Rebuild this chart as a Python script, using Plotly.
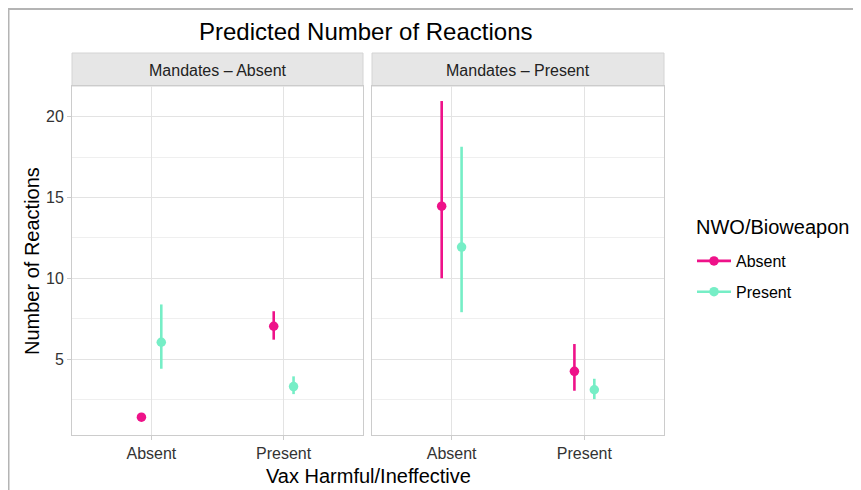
import plotly.graph_objects as go

# ---- data ----
vax_levels = ["Absent", "Present"]
nwo_levels = ["Absent", "Present"]
panels = ["Mandates – Absent", "Mandates – Present"]

# panel 1: Mandates – Absent
m_abs_nwo_abs_est = [1.40, 7.03]
m_abs_nwo_abs_lo = [1.30, 6.20]
m_abs_nwo_abs_hi = [1.50, 7.96]
m_abs_nwo_pre_est = [6.04, 3.30]
m_abs_nwo_pre_lo = [4.40, 2.83]
m_abs_nwo_pre_hi = [8.38, 3.93]

# panel 2: Mandates – Present
m_pre_nwo_abs_est = [14.46, 4.24]
m_pre_nwo_abs_lo = [10.00, 3.04]
m_pre_nwo_abs_hi = [20.97, 5.93]
m_pre_nwo_pre_est = [11.93, 3.10]
m_pre_nwo_pre_lo = [7.90, 2.52]
m_pre_nwo_pre_hi = [18.14, 3.78]

colors = {"Absent": "#EE1289", "Present": "#76EEC6"}
dodge = {"Absent": -0.075, "Present": 0.075}

# figure is placed at page offset (8, 8) by the default body margin
W, H = 853, 482
OFF = 8
def px_x(v):
    return (v - OFF) / W
def px_y(v):
    return 1 - (v - OFF) / H

fig = go.Figure()

series = [
    (0, "Absent", m_abs_nwo_abs_est, m_abs_nwo_abs_lo, m_abs_nwo_abs_hi),
    (0, "Present", m_abs_nwo_pre_est, m_abs_nwo_pre_lo, m_abs_nwo_pre_hi),
    (1, "Absent", m_pre_nwo_abs_est, m_pre_nwo_abs_lo, m_pre_nwo_abs_hi),
    (1, "Present", m_pre_nwo_pre_est, m_pre_nwo_pre_lo, m_pre_nwo_pre_hi),
]

for p, nwo, est, lo, hi in series:
    xs = [i + 1 + dodge[nwo] for i in range(len(vax_levels))]
    fig.add_trace(go.Scatter(
        x=xs, y=est,
        mode="markers",
        name=nwo,
        legendgroup=nwo,
        showlegend=False,
        marker=dict(color=colors[nwo], size=9.5),
        error_y=dict(type="data", symmetric=False,
                     array=[h - e for h, e in zip(hi, est)],
                     arrayminus=[e - l for e, l in zip(est, lo)],
                     color=colors[nwo], thickness=2.6, width=0),
        xaxis="x" if p == 0 else "x2",
        yaxis="y" if p == 0 else "y2",
        hovertemplate="%{y:.2f}<extra></extra>",
    ))

# legend entries (pointrange glyph: line + dot)
for nwo in nwo_levels:
    fig.add_trace(go.Scatter(
        x=[None], y=[None], mode="lines+markers", name=nwo, legendgroup=nwo,
        line=dict(color=colors[nwo], width=2.6),
        marker=dict(color=colors[nwo], size=9.5),
        showlegend=True, hoverinfo="skip",
    ))

ydom = [px_y(435), px_y(86)]
grid_col = "#e3e3e3"
border_col = "#cccccc"
axis_common_y = dict(
    range=[0.3, 21.9], tickvals=[5, 10, 15, 20],
    showgrid=True, gridcolor=grid_col, gridwidth=1.3,
    minor=dict(tickvals=[2.5, 7.5, 12.5, 17.5], showgrid=True, gridcolor="#efefef", gridwidth=0.9),
    zeroline=False, showline=True, linecolor=border_col, linewidth=1, mirror=True,
    domain=ydom,
)
axis_common_x = dict(
    range=[0.4, 2.6], tickvals=[1, 2], ticktext=vax_levels,
    showgrid=True, gridcolor=grid_col, gridwidth=1.3,
    zeroline=False, showline=True, linecolor=border_col, linewidth=1, mirror=True,
    ticks="outside", ticklen=4, tickcolor=border_col,
    tickfont=dict(size=16, color="#333333"),
)

fig.update_layout(
    width=W, height=H,
    margin=dict(l=0, r=0, t=0, b=0),
    paper_bgcolor="white", plot_bgcolor="white",
    font=dict(family="Liberation Sans, Arial, sans-serif", color="#000000"),
    xaxis=dict(domain=[px_x(72), px_x(363)], anchor="y", **axis_common_x),
    xaxis2=dict(domain=[px_x(372), px_x(664)], anchor="y2", **axis_common_x),
    yaxis=dict(anchor="x", ticks="outside", ticklen=4, tickcolor=border_col,
               tickfont=dict(size=16, color="#333333"), **axis_common_y),
    yaxis2=dict(anchor="x2", showticklabels=False, ticks="", matches="y", **axis_common_y),
    legend=dict(
        x=px_x(692), y=px_y(244), xanchor="left", yanchor="top",
        font=dict(size=16, color="#000000"),
        tracegroupgap=7, itemwidth=34,
        bgcolor="rgba(0,0,0,0)",
    ),
    showlegend=True,
)

# strips
shapes = []
annotations = []
for (x0, x1), label in zip([(72, 363), (372, 664)], panels):
    shapes.append(dict(type="rect", xref="paper", yref="paper",
                       x0=px_x(x0), x1=px_x(x1), y0=px_y(86), y1=px_y(53),
                       fillcolor="#e6e6e6", line=dict(color="#d4d4d4", width=1), layer="below"))
    annotations.append(dict(text=label, xref="paper", yref="paper",
                            x=px_x((x0 + x1) / 2), y=px_y(71), showarrow=False,
                            xanchor="center", yanchor="middle",
                            font=dict(size=16, color="#222222")))

# screenshot frame
shapes.append(dict(type="line", xref="paper", yref="paper",
                   x0=0, x1=1, y0=px_y(9), y1=px_y(9),
                   line=dict(color="#b4b4b4", width=2)))
shapes.append(dict(type="line", xref="paper", yref="paper",
                   x0=px_x(8.5), x1=px_x(8.5), y0=0, y1=px_y(9),
                   line=dict(color="#b4b4b4", width=2)))

annotations += [
    dict(text="Predicted Number of Reactions", xref="paper", yref="paper",
         x=px_x(366), y=px_y(31), showarrow=False, xanchor="center", yanchor="middle",
         font=dict(size=24, color="#000000")),
    dict(text="Vax Harmful/Ineffective", xref="paper", yref="paper",
         x=px_x(368), y=px_y(476), showarrow=False, xanchor="center", yanchor="middle",
         font=dict(size=20, color="#000000")),
    dict(text="Number of Reactions", xref="paper", yref="paper",
         x=px_x(32), y=px_y(261), showarrow=False, xanchor="center", yanchor="middle",
         textangle=-90, font=dict(size=20, color="#000000")),
    dict(text="NWO/Bioweapon", xref="paper", yref="paper",
         x=px_x(694), y=px_y(227), showarrow=False, xanchor="left", yanchor="middle",
         font=dict(size=20, color="#000000")),
]

fig.update_layout(shapes=shapes, annotations=annotations)

fig.write_html("out.html")
